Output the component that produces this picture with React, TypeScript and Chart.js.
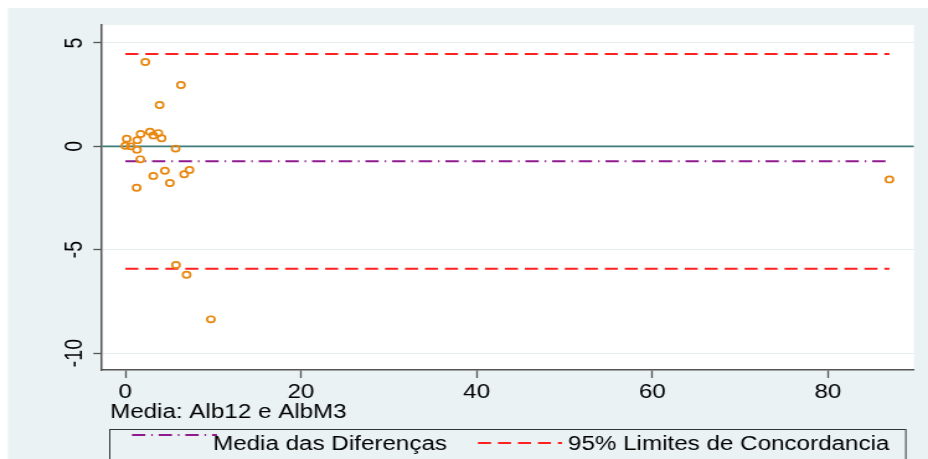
import React, { useEffect, useRef } from "react";
import { Chart, registerables } from "chart.js";

Chart.register(...registerables);

// ---- data ----
const meanX = [2.27, 6.33, 3.9, 0.15, 1.74, 2.8, 3.18, 3.75, 4.13, 1.35, 0.0, 0.6, 1.32, 5.72, 1.7, 3.18, 4.5, 6.7, 7.3, 5.07, 1.28, 5.76, 6.97, 9.74, 87.0];
const diffY = [4.08, 2.97, 2.0, 0.37, 0.6, 0.71, 0.53, 0.64, 0.39, 0.3, 0.03, 0.0, -0.16, -0.11, -0.63, -1.43, -1.18, -1.35, -1.14, -1.77, -2.0, -5.74, -6.21, -8.37, -1.6];
const meanDiff = -0.72;
const upperLoA = 4.47;
const lowerLoA = -5.92;
const xTicks = [0, 20, 40, 60, 80];
const yTicks = [5, 0, -5, -10];
const xRange = [-2.66, 89.8];
const yRange = [-10.82, 5.87];
const xTitle = "Media: Alb12 e AlbM3";
const legendLabels = ["Media das Diferenças", "95% Limites de Concordancia"];

// ---- presentation ----
const W = 748;
const H = 459;
const S = 928 / W; // horizontal stretch of the original picture
const FONT = "'Liberation Sans', Arial, Helvetica, sans-serif";
const FS = 19.5;
const ORANGE = "#e8870e";
const PURPLE = "#8e1a8e";
const RED = "#ff2020";
const TEAL = "#3d7b78";
const BG = "#eaf2f3";
const AXIS = "#555555";
const DASH_RED = [10.5, 5.6];
const DASH_PURPLE = [10.7, 4.8, 1.2, 4.8];

export default function App() {
  const ref = useRef<HTMLCanvasElement>(null);

  useEffect(() => {
    if (!ref.current) return;
    const pts = meanX.map((x, i) => ({ x, y: diffY[i] }));
    const xmin = Math.min(...meanX);
    const xmax = Math.max(...meanX);

    const decor = {
      id: "decor",
      beforeDraw(chart: any) {
        const { ctx, chartArea: a } = chart;
        ctx.save();
        ctx.fillStyle = "#ffffff";
        ctx.fillRect(0, 0, W, H);
        ctx.fillStyle = BG;
        ctx.fillRect(8 / S, 8, W, H);
        ctx.fillStyle = "#ffffff";
        ctx.fillRect(a.left, a.top, a.right - a.left, a.bottom - a.top);
        ctx.restore();
      },
      afterDraw(chart: any) {
        const { ctx } = chart;
        ctx.save();
        // x axis title
        ctx.fillStyle = "#000";
        ctx.font = `${FS}px ${FONT}`;
        ctx.textAlign = "left";
        ctx.textBaseline = "alphabetic";
        ctx.fillText(xTitle, 110 / S, 418);
        // legend box
        ctx.strokeStyle = "#333";
        ctx.lineWidth = 1;
        ctx.strokeRect(Math.round(109 / S) + 0.5, 429.5, (905 - 109) / S, 60);
        // legend samples
        ctx.lineWidth = 2;
        ctx.strokeStyle = PURPLE;
        ctx.setLineDash(DASH_PURPLE);
        ctx.beginPath();
        ctx.moveTo(132 / S, 435);
        ctx.lineTo(217 / S, 435);
        ctx.stroke();
        ctx.strokeStyle = RED;
        ctx.setLineDash(DASH_RED);
        ctx.beginPath();
        ctx.moveTo(478 / S, 443);
        ctx.lineTo(562 / S, 443);
        ctx.stroke();
        ctx.setLineDash([]);
        ctx.fillStyle = "#000";
        ctx.fillText(legendLabels[0], 213 / S, 450);
        ctx.fillText(legendLabels[1], 568 / S, 450);
        ctx.restore();
      },
    };

    const chart = new Chart(ref.current, {
      type: "scatter",
      data: {
        datasets: [
          {
            type: "scatter",
            data: pts,
            pointStyle: "circle",
            pointRadius: 3.1,
            borderColor: ORANGE,
            borderWidth: 1.7,
            backgroundColor: "rgba(0,0,0,0)",
            order: 0,
          } as any,
          {
            type: "line",
            data: [{ x: xRange[0], y: 0 }, { x: xRange[1], y: 0 }],
            borderColor: TEAL,
            borderWidth: 1.6,
            pointRadius: 0,
            fill: false,
            order: 4,
          },
          {
            type: "line",
            data: [{ x: xmin, y: meanDiff }, { x: xmax, y: meanDiff }],
            borderColor: PURPLE,
            borderWidth: 2,
            borderDash: DASH_PURPLE,
            pointRadius: 0,
            fill: false,
            order: 3,
          },
          {
            type: "line",
            data: [{ x: xmin, y: upperLoA }, { x: xmax, y: upperLoA }],
            borderColor: RED,
            borderWidth: 2,
            borderDash: DASH_RED,
            pointRadius: 0,
            fill: false,
            order: 2,
          },
          {
            type: "line",
            data: [{ x: xmin, y: lowerLoA }, { x: xmax, y: lowerLoA }],
            borderColor: RED,
            borderWidth: 2,
            borderDash: DASH_RED,
            pointRadius: 0,
            fill: false,
            order: 2,
          },
        ],
      },
      options: {
        animation: false,
        responsive: true,
        maintainAspectRatio: false,
        layout: { padding: { top: 25, right: W - 914 / S, left: 0, bottom: 0 } },
        plugins: { legend: { display: false }, tooltip: { enabled: false } },
        scales: {
          x: {
            type: "linear",
            min: xRange[0],
            max: xRange[1],
            afterBuildTicks: (s: any) => {
              s.ticks = xTicks.map((v) => ({ value: v }));
            },
            afterFit: (s: any) => {
              s.height = H - 370;
            },
            grid: { drawOnChartArea: false, tickLength: 8, tickColor: AXIS, tickWidth: 1.3 },
            border: { color: AXIS, width: 1.5 },
            ticks: {
              font: { family: FONT, size: FS },
              color: "#000",
              padding: 3,
              minRotation: 0,
              maxRotation: 0,
            },
          },
          y: {
            type: "linear",
            min: yRange[0],
            max: yRange[1],
            afterBuildTicks: (s: any) => {
              s.ticks = yTicks.map((v) => ({ value: v }));
            },
            afterFit: (s: any) => {
              s.width = 102 / S;
            },
            grid: { color: "#e4eced", lineWidth: 1, tickLength: 7, tickColor: AXIS, tickWidth: 1.3 },
            border: { color: AXIS, width: 1.5 },
            ticks: {
              font: { family: FONT, size: FS },
              color: "#000",
              padding: 0,
              minRotation: 90,
              maxRotation: 90,
              crossAlign: "center",
            },
          },
        },
      },
      plugins: [decor],
    } as any);

    return () => chart.destroy();
  }, []);

  return (
    <div
      style={{
        position: "absolute",
        left: 0,
        top: 0,
        width: W,
        height: H,
        transform: `scaleX(${S})`,
        transformOrigin: "0 0",
      }}
    >
      <canvas ref={ref} />
    </div>
  );
}
